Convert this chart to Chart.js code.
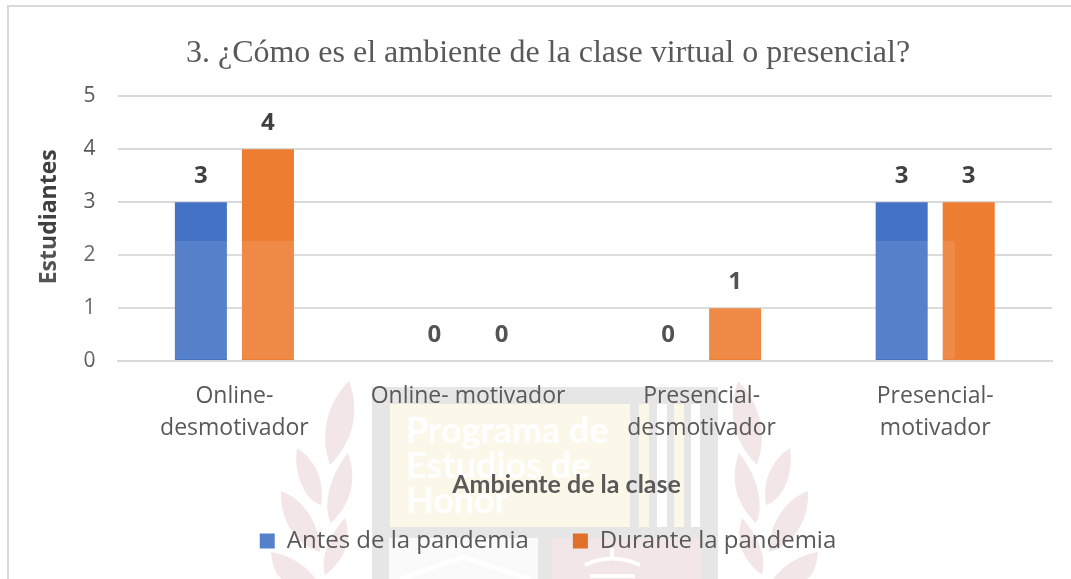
<!DOCTYPE html>
<html>
<head>
<meta charset="utf-8">
<script src="https://cdn.jsdelivr.net/npm/chart.js@4/dist/chart.umd.min.js"></script>
<style>
html, body { margin: 0; padding: 0; background: #fff; overflow: hidden; }
#wrap { position: relative; width: 1071px; height: 579px; overflow: hidden; }
#frame { position: absolute; left: 7px; top: 5px; width: 1064px; height: 600px; border-left: 2px solid #d9d9d9; border-top: 2px solid #d9d9d9; }
#wm, #veil, canvas { position: absolute; }
#wm { left: 0; top: 0; }
canvas { left: 0; top: 0; }
#veil { left: 0; top: 241px; width: 955px; height: 118px; background: rgba(255,255,255,0.1); }
</style>
</head>
<body>
<div id="wrap">
    <!-- marca de agua del documento -->
    <svg id="wm" width="1071" height="579" font-family="Lato, sans-serif" font-weight="700">
        <rect x="372" y="387" width="346" height="192" fill="#e6e6e6"/>
        <rect x="390" y="404" width="240" height="123" fill="#fbf8e9"/>
        <rect x="639" y="404" width="10" height="123" fill="#fbf8e9"/>
        <rect x="657" y="404" width="10" height="123" fill="#fff"/>
        <rect x="674" y="404" width="10" height="123" fill="#fbf8e9"/>
        <rect x="691" y="404" width="9" height="123" fill="#fff"/>
        <rect x="389" y="538" width="149" height="41" fill="#fafafa"/>
        <rect x="552" y="538" width="150" height="41" fill="#f2e6e7"/>
        <path d="M400 579 L463 557 L530 579" fill="none" stroke="#fff" stroke-width="5"/>
        <path d="M585 565 Q612 552 640 565 M590 576 L635 576 M612 548 L612 558" fill="none" stroke="#fff" stroke-width="4"/>
        <text x="406" y="443" font-size="36" fill="#fff">Programa de</text>
        <text x="406" y="478" font-size="36" fill="#fff">Estudios de</text>
        <text x="406" y="513" font-size="36" fill="#fff">Honor</text>
        <g fill="#f2e6e7">
            <path d="M349 381 C330 400 318 430 330 465 C350 445 362 415 349 381 Z"/>
            <path d="M297 448 C293 475 305 500 321 505 C325 480 315 460 297 448 Z"/>
            <path d="M348 453 C330 475 322 505 331 523 C350 505 358 480 348 453 Z"/>
            <path d="M281 491 C280 520 295 545 320 552 C320 525 305 500 281 491 Z"/>
            <path d="M345 518 C330 535 320 555 325 575 C345 560 352 540 345 518 Z"/>
            <path d="M271 552 C272 565 276 575 282 579 L316 579 C305 565 290 555 271 552 Z"/>
            <path d="M738 381 C757 400 769 430 757 465 C737 445 725 415 738 381 Z"/>
            <path d="M790 448 C794 475 782 500 766 505 C762 480 772 460 790 448 Z"/>
            <path d="M739 453 C757 475 765 505 756 523 C737 505 729 480 739 453 Z"/>
            <path d="M808 491 C809 520 794 545 769 552 C769 525 784 500 808 491 Z"/>
            <path d="M742 518 C757 535 767 555 762 575 C742 560 735 540 742 518 Z"/>
            <path d="M818 552 C817 565 813 575 807 579 L773 579 C784 565 799 555 818 552 Z"/>
        </g>
    </svg>
    <div id="frame"></div>
    <canvas id="myChart" width="1071" height="579"></canvas>
    <div id="veil"></div>
</div>
<script>
var categorias = [['Online-', 'desmotivador'], 'Online- motivador', ['Presencial-', 'desmotivador'], ['Presencial-', 'motivador']];
var antes = [3, 0, 0, 3];
var durante = [4, 0, 1, 3];
var titulo = '3. ¿Cómo es el ambiente de la clase virtual o presencial?';
var ejeX = 'Ambiente de la clase';
var ejeY = 'Estudiantes';
var coloresLeyenda = ['#5580ca', '#e06f2c'];

// etiquetas de valor encima de cada barra
var etiquetas = {
    id: 'etiquetas',
    afterDatasetsDraw: function (chart) {
        var c = chart.ctx;
        c.save();
        c.font = 'bold 24px "Open Sans", sans-serif';
        c.fillStyle = '#404040';
        c.textAlign = 'center';
        c.textBaseline = 'middle';
        chart.data.datasets.forEach(function (ds, i) {
            chart.getDatasetMeta(i).data.forEach(function (bar, j) {
                c.fillText(ds.data[j], bar.x, bar.y - 26);
            });
        });
        c.restore();
    }
};

new Chart(document.getElementById('myChart'), {
    type: 'bar',
    data: {
        labels: categorias,
        datasets: [{
            label: 'Antes de la pandemia',
            data: antes,
            backgroundColor: '#4472c4',
            barPercentage: 0.776,
            categoryPercentage: 0.574
        }, {
            label: 'Durante la pandemia',
            data: durante,
            backgroundColor: '#ed7d31',
            barPercentage: 0.776,
            categoryPercentage: 0.574
        }]
    },
    options: {
        responsive: false,
        animation: false,
        layout: { padding: { left: 44, right: 19, top: 34, bottom: 16 } },
        scales: {
            x: {
                grid: { display: false },
                border: { color: '#d9d9d9', width: 2 },
                ticks: {
                    color: '#595959',
                    padding: 11,
                    maxRotation: 0,
                    autoSkip: false,
                    font: { family: '"Open Sans", sans-serif', size: 23, lineHeight: 1.39 }
                },
                title: {
                    display: true,
                    text: ejeX + '\u00a0\u00a0\u00a0\u00a0\u00a0\u00a0', // va un poco a la izquierda del centro
                    color: '#595959',
                    padding: { top: 15, bottom: -15 },
                    font: { family: 'Lato, sans-serif', size: 25, weight: 'bold' }
                }
            },
            y: {
                min: 0,
                max: 5,
                grid: { color: '#d9d9d9', lineWidth: 2, drawTicks: false },
                border: { display: false },
                ticks: {
                    stepSize: 1,
                    color: '#595959',
                    padding: 22,
                    font: { family: '"Open Sans", sans-serif', size: 21 }
                },
                title: {
                    display: true,
                    text: '\u00a0\u00a0\u00a0\u00a0' + ejeY, // va un poco por encima del centro
                    color: '#404040',
                    padding: { top: -8, bottom: -2 },
                    font: { family: '"Open Sans", sans-serif', size: 23, weight: 'bold' }
                }
            }
        },
        plugins: {
            title: {
                display: true,
                text: titulo,
                color: '#595959',
                padding: { top: 0, bottom: 24 },
                font: { family: '"Liberation Serif", serif', size: 32, weight: 'normal' }
            },
            legend: {
                position: 'bottom',
                labels: {
                    color: '#595959',
                    boxWidth: 15,
                    boxHeight: 15,
                    padding: 44,
                    font: { family: '"Open Sans", sans-serif', size: 24 },
                    generateLabels: function (chart) {
                        return Chart.defaults.plugins.legend.labels.generateLabels(chart).map(function (item, i) {
                            item.fillStyle = coloresLeyenda[i];
                            item.strokeStyle = coloresLeyenda[i];
                            return item;
                        });
                    }
                }
            },
            tooltip: { enabled: false }
        }
    },
    plugins: [etiquetas]
});
</script>
</body>
</html>
